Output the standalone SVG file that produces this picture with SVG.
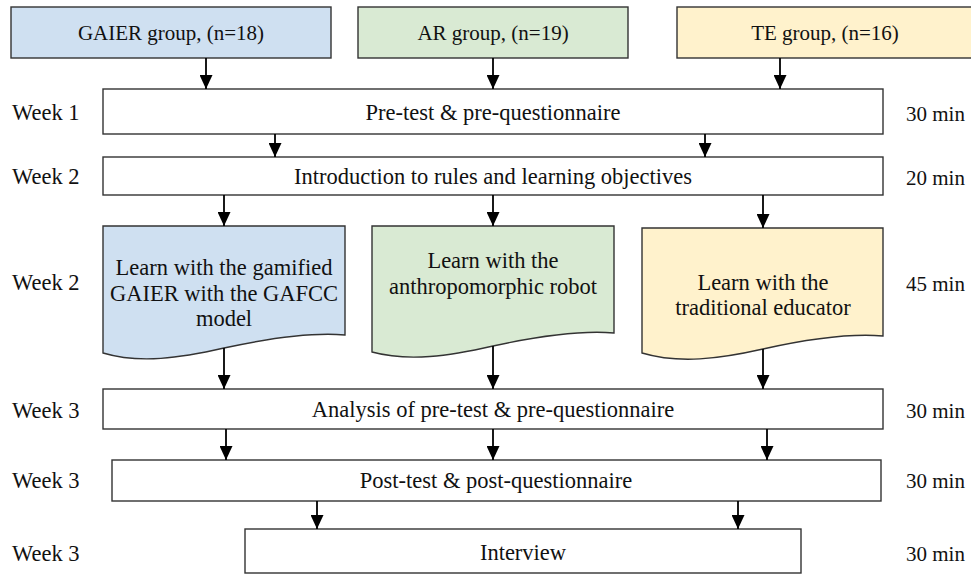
<svg xmlns="http://www.w3.org/2000/svg" width="971" height="574" viewBox="0 0 971 574">
<defs>
<marker id="ah" markerWidth="14" markerHeight="13" refX="14" refY="6.5" orient="auto" markerUnits="userSpaceOnUse">
<path d="M0,0 L14,6.5 L0,13 Z" fill="#000"/>
</marker>
<style>
text{font-family:"Liberation Serif","Times New Roman",serif;font-size:22.5px;fill:#111}
.c{text-anchor:middle}
.s{font-size:21px}
.box{stroke:#333;stroke-width:1.4;fill:#fff}
.blue{fill:#cfe0f1}
.green{fill:#d9ead3}
.yellow{fill:#fff2cc}
.conn line{stroke:#000;stroke-width:1.8;marker-end:url(#ah)}
</style>
</defs>
<rect width="971" height="574" fill="#fff"/>

<g id="gaier-group"><rect class="box blue" x="11" y="7" width="320" height="51"/><text class="c s" x="171" y="40">GAIER group, (n=18)</text></g>
<g id="ar-group"><rect class="box green" x="358" y="7" width="270" height="51"/><text class="c s" x="493" y="40">AR group, (n=19)</text></g>
<g id="te-group"><rect class="box yellow" x="677" y="7" width="300" height="51"/><text class="c s" x="825" y="40">TE group, (n=16)</text></g>

<g id="pretest"><rect class="box" x="103" y="89" width="780" height="45"/><text class="c" x="493" y="120">Pre-test &amp; pre-questionnaire</text></g>
<g id="intro"><rect class="box" x="103" y="157" width="780" height="38"/><text class="c" x="493" y="184">Introduction to rules and learning objectives</text></g>

<g id="learn-gaier"><path class="box blue" d="M103,226 H345 V335 C310,332 270,338 224,348 C180,358 140,364 103,353 Z"/>
<text class="c" x="224" y="275">Learn with the gamified</text><text class="c" x="224" y="301">GAIER with the GAFCC</text><text class="c" x="224" y="326">model</text></g>
<g id="learn-ar"><path class="box green" d="M372,226 H614 V333 C579,330 539,336 493,346 C449,356 409,362 372,352 Z"/>
<text class="c" x="493" y="268">Learn with the</text><text class="c" x="493" y="294">anthropomorphic robot</text></g>
<g id="learn-te"><path class="box yellow" d="M642,228 H883 V336 C848,333 808,339 763,349 C719,359 679,364 642,353 Z"/>
<text class="c" x="763" y="290">Learn with the</text><text class="c" x="763" y="315">traditional educator</text></g>

<g id="analysis"><rect class="box" x="103" y="389" width="780" height="40"/><text class="c" x="493" y="417">Analysis of pre-test &amp; pre-questionnaire</text></g>
<g id="posttest"><rect class="box" x="112" y="460" width="769" height="41"/><text class="c" x="496" y="488">Post-test &amp; post-questionnaire</text></g>
<g id="interview"><rect class="box" x="245" y="529" width="556" height="44"/><text class="c" x="523" y="560">Interview</text></g>

<g id="week-labels">
<text x="12" y="120">Week 1</text>
<text x="12" y="184">Week 2</text>
<text x="12" y="290">Week 2</text>
<text x="12" y="418">Week 3</text>
<text x="12" y="488">Week 3</text>
<text x="12" y="561">Week 3</text>
</g>
<g id="durations">
<text class="s" x="906" y="121">30 min</text>
<text class="s" x="906" y="185">20 min</text>
<text class="s" x="906" y="291">45 min</text>
<text class="s" x="906" y="418">30 min</text>
<text class="s" x="906" y="488">30 min</text>
<text class="s" x="906" y="561">30 min</text>
</g>

<g class="conn" id="connectors">
<line x1="206" y1="58" x2="206" y2="89"/>
<line x1="493" y1="58" x2="493" y2="89"/>
<line x1="780" y1="58" x2="780" y2="89"/>
<line x1="275" y1="134" x2="275" y2="157"/>
<line x1="705" y1="134" x2="705" y2="157"/>
<line x1="224" y1="195" x2="224" y2="226"/>
<line x1="493" y1="195" x2="493" y2="226"/>
<line x1="763" y1="195" x2="763" y2="228"/>
<line x1="224" y1="348" x2="224" y2="389"/>
<line x1="493" y1="346" x2="493" y2="389"/>
<line x1="763" y1="349" x2="763" y2="389"/>
<line x1="226" y1="429" x2="226" y2="460"/>
<line x1="493" y1="429" x2="493" y2="460"/>
<line x1="767" y1="429" x2="767" y2="460"/>
<line x1="317" y1="501" x2="317" y2="529"/>
<line x1="738" y1="501" x2="738" y2="529"/>
</g>
</svg>
